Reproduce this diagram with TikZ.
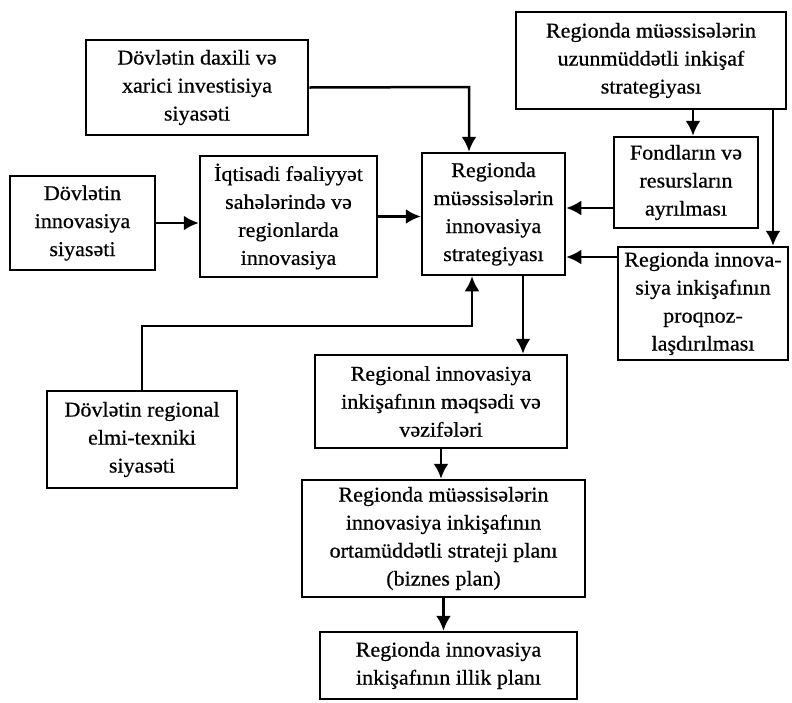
\documentclass[tikz,border=0pt]{standalone}
\usepackage{fontspec}
\setmainfont[FakeStretch=1.05,FakeBold=0.6]{Liberation Serif}
\usetikzlibrary{arrows.meta}
\begin{document}
\begin{tikzpicture}[x=1pt,y=-1pt,
  box/.style={draw,line width=2.5pt,align=center,inner sep=0pt,
    font=\fontsize{21}{28}\selectfont},
  arr/.style={line width=2.5pt,-{Latex[length=15pt,width=15pt]}}]
\useasboundingbox (0,0) rectangle (792,702);
\node[box,minimum width=222,minimum height=95] (A) at (197,87.5) {Dövlətin daxili və\\xarici investisiya\\siyasəti};
\node[box,minimum width=145,minimum height=94] (B) at (82.5,223) {Dövlətin\\innovasiya\\siyasəti};
\node[box,minimum width=177,minimum height=121] (C) at (288.5,216.5) {İqtisadi fəaliyyət\\sahələrində və\\regionlarda\\innovasiya};
\node[box,minimum width=143,minimum height=122] (D) at (493.5,214) {Regionda\\müəssisələrin\\innovasiya\\strategiyası};
\node[box,minimum width=270,minimum height=97] (E) at (651,60.5) {Regionda müəssisələrin\\uzunmüddətli inkişaf\\strategiyası};
\node[box,minimum width=144,minimum height=91] (F) at (686,182.5) {Fondların və\\resursların\\ayrılması};
\node[box,minimum width=170,minimum height=113] (G) at (703,303.5) {Regionda innova-\\siya inkişafının\\proqnoz-\\laşdırılması};
\node[box,minimum width=252,minimum height=93] (H) at (441,401.5) {Regional innovasiya\\inkişafının məqsədi və\\vəzifələri};
\node[box,minimum width=190,minimum height=97] (I) at (142,439.5) {Dövlətin regional\\elmi-texniki\\siyasəti};
\node[box,minimum width=283,minimum height=117] (J) at (443.5,538.5) {Regionda müəssisələrin\\innovasiya inkişafının\\ortamüddətli strateji planı\\(biznes plan)};
\node[box,minimum width=257,minimum height=67] (K) at (448.5,665.5) {Regionda innovasiya\\inkişafının illik planı};
\coordinate (xa) at (469,87);
\coordinate (x1) at (693,0);
\coordinate (x2) at (773,0);
\coordinate (x3) at (523,0);
\coordinate (x4) at (472,326);
\draw[arr] (A.east) -- (xa) -- (D.north -| xa);
\draw[arr] (B.east) -- (B.east -| C.west);
\draw[arr] (C.east) -- (C.east -| D.west);
\draw[arr] ([yshift=-25.5pt]F.west) -- ([yshift=-25.5pt]F.west -| D.east);
\draw[arr] ([yshift=46.5pt]G.west) -- ([yshift=46.5pt]G.west -| D.east);
\draw[arr] (E.south -| x1) -- (F.north -| x1);
\draw[arr] (E.south -| x2) -- (G.north -| x2);
\draw[arr] (D.south -| x3) -- (H.north -| x3);
\draw[arr] (I.north) |- (x4) -- (D.south -| x4);
\draw[arr] (H.south) -- (H.south |- J.north);
\draw[arr] (J.south) -- (J.south |- K.north);
\end{tikzpicture}
\end{document}
